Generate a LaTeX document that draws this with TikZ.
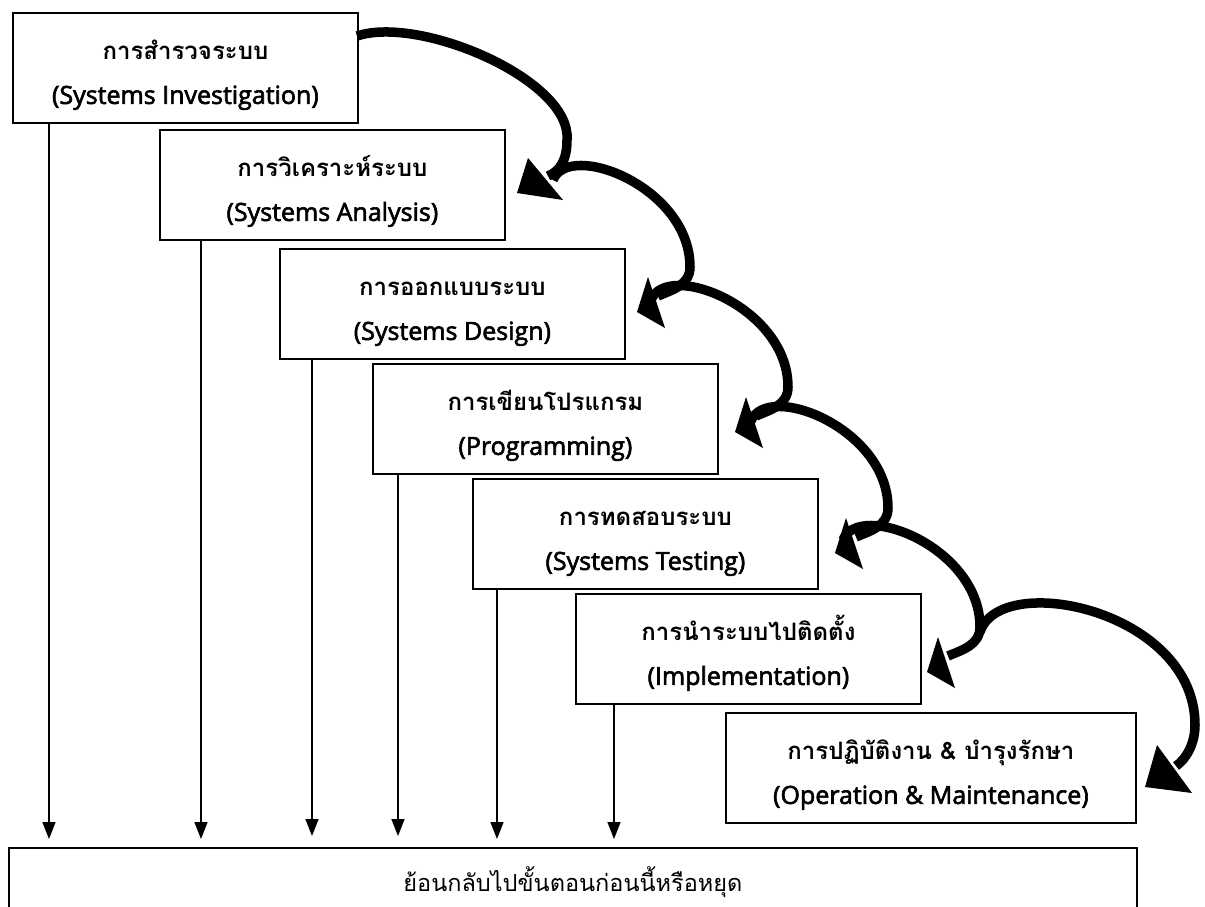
\documentclass[tikz,border=0pt]{standalone}
\usepackage{fontspec}
\setmainfont{Open Sans}
\newfontfamily\thaifont[Script=Thai]{Loma}
\newfontfamily\latinfont[FakeBold=2.5]{Open Sans}
\usetikzlibrary{arrows.meta,calc}
\newcommand\stairarrow[1]{%
  \draw[shaft] ($(#1)+(-84,-132)$) .. controls ($(#1)+(-68,-172)$) and ($(#1)+(53,-125)$) .. ($(#1)+(53,-45)$)
     .. controls ($(#1)+(53,-27)$) and ($(#1)+(35,-22)$) .. ($(#1)+(21,-16)$);
  \fill ($(#1)$) -- ($(#1)+(11,-35)$) -- ($(#1)+(28,16)$) -- cycle;
}
\newcommand\twolines[2]{\rule{0pt}{38pt}{\thaifont\bfseries\fontsize{24}{44}\selectfont #1}\\%
  {\latinfont\mdseries\fontsize{25}{44}\selectfont #2}\rule[-10pt]{0pt}{10pt}}
\begin{document}
\begin{tikzpicture}[x=1pt,y=-1pt,
  stage/.style={draw, line width=1.8pt, anchor=north west, inner sep=0pt, align=center,
    minimum width=345pt, minimum height=110pt, font=\fontsize{24}{44}\selectfont},
  vline/.style={line width=1.6pt, -{Triangle[length=17pt,width=13pt]}},
  shaft/.style={line width=9.5pt},
  ]
\useasboundingbox (0,0) rectangle (1205,906);
\clip (0,0) rectangle (1205,906);

\node[stage] (b1) at (12,12) {\twolines{การสำรวจระบบ}{(Systems Investigation)}};
\node[stage] (b2) at (159,129) {\twolines{การวิเคราะห์ระบบ}{(Systems Analysis)}};
\node[stage] (b3) at (279,248) {\twolines{การออกแบบระบบ}{(Systems Design)}};
\node[stage] (b4) at (372,363) {\twolines{การเขียนโปรแกรม}{(Programming)}};
\node[stage] (b5) at (472,478) {\twolines{การทดสอบระบบ}{(Systems Testing)}};
\node[stage] (b6) at (575,593) {\twolines{การนำระบบไปติดตั้ง}{(Implementation)}};
\node[stage, minimum width=410pt] (b7) at (725,712) {\twolines{การปฏิบัติงาน \& บำรุงรักษา}{(Operation \& Maintenance)}};
\node[draw, line width=1.8pt, anchor=north west, inner sep=0pt, minimum width=1128pt, minimum height=68pt,
  font=\thaifont\fontsize{23.5}{26}\selectfont] (bot) at (8,847) {ย้อนกลับไปขั้นตอนก่อนนี้หรือหยุด};

\coordinate (e1) at (49,839);
\coordinate (e2) at (201,839);
\coordinate (e3) at (312,836);
\coordinate (e4) at (398,836);
\coordinate (e5) at (497,839);
\coordinate (e6) at (614,839);
\draw[vline] (b1.south -| e1) -- (e1);
\draw[vline] (b2.south -| e2) -- (e2);
\draw[vline] (b3.south -| e3) -- (e3);
\draw[vline] (b4.south -| e4) -- (e4);
\draw[vline] (b5.south -| e5) -- (e5);
\draw[vline] (b6.south -| e6) -- (e6);

% curved arrows
\coordinate (s1) at (357,36);
\coordinate (t1) at (517,193);
\draw[shaft] (s1) .. controls (420,15) and (572,80) .. (567,140) .. controls (567,160) and (560,171) .. (548,176);
\fill (t1) -- (528,158) -- (563,200) -- cycle;

\coordinate (t2) at (637,312);
\coordinate (t3) at (735,432);
\coordinate (t4) at (835,553);
\coordinate (t5) at (927,672);
\stairarrow{t2}
\stairarrow{t3}
\stairarrow{t4}
\stairarrow{t5}

\coordinate (s6) at (980,632);
\coordinate (t6) at (1145,787);
\draw[shaft] (s6) .. controls (1000,570) and (1195,610) .. (1195,725) .. controls (1195,745) and (1185,760) .. (1176,766);
\fill (t6) -- (1157,745) -- (1192,793) -- cycle;
\end{tikzpicture}
\end{document}
